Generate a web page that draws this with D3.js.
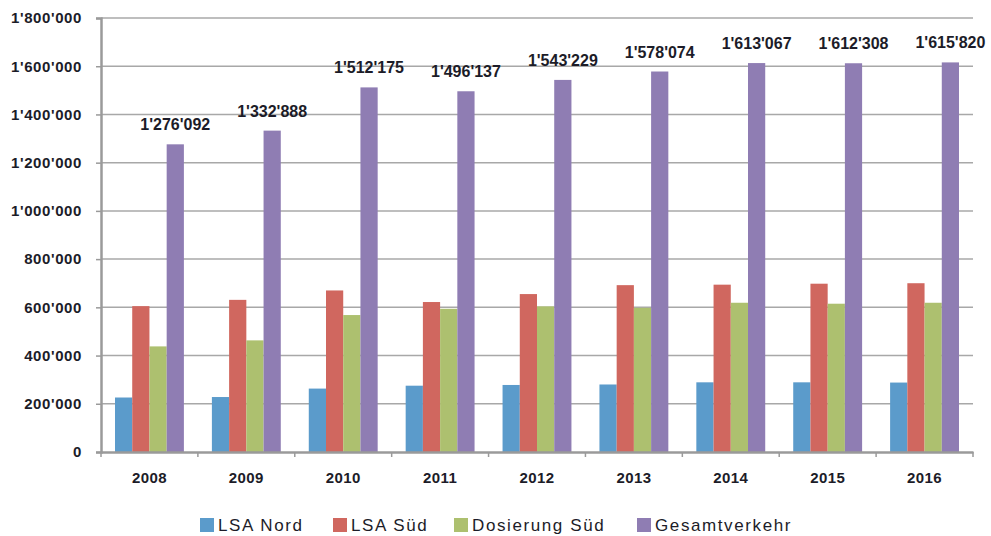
<!DOCTYPE html>
<html>
<head>
<meta charset="utf-8">
<script src="https://cdn.jsdelivr.net/npm/d3@7"></script>
<style>
  body { margin: 0; background: #fff; }
  text { font-family: "Liberation Sans", Arial, sans-serif; }
</style>
</head>
<body>
<div id="chart"></div>
<script>
// Data
const years = ["2008", "2009", "2010", "2011", "2012", "2013", "2014", "2015", "2016"];
const seriesNames = ["LSA Nord", "LSA Süd", "Dosierung Süd", "Gesamtverkehr"];
const lsaNord = [226000, 228000, 263000, 275000, 278000, 280000, 289000, 289000, 288000];
const lsaSued = [605000, 631000, 670000, 622000, 655000, 692000, 694000, 698000, 700000];
const dosierungSued = [438000, 463000, 568000, 594000, 604000, 598000, 619000, 615000, 619000];
const gesamtverkehr = [1276092, 1332888, 1512175, 1496137, 1543229, 1578074, 1613067, 1612308, 1615820];
const yTicks = [0, 200000, 400000, 600000, 800000, 1000000, 1200000, 1400000, 1600000, 1800000];
const colors = ["#5b9bcb", "#d0675f", "#adc06f", "#8f7db3"];

const totalW = 991, totalH = 536;
const margin = { top: 18, right: 18, bottom: 84, left: 101 };
const width = totalW - margin.left - margin.right;
const height = totalH - margin.top - margin.bottom;

const loc = d3.formatLocale({ decimal: ".", thousands: "'", grouping: [3], currency: ["", ""] });
const fmt = loc.format(",");

const allSeries = [lsaNord, lsaSued, dosierungSued, gesamtverkehr];
const rows = years.map(function(y, i) {
  return { year: y, values: allSeries.map(function(s, k) { return { key: seriesNames[k], value: s[i] }; }) };
});

const svg = d3.select("#chart").append("svg")
  .attr("width", totalW)
  .attr("height", totalH);

const g = svg.append("g")
  .attr("transform", "translate(" + margin.left + "," + margin.top + ")");

const x0 = d3.scaleBand().domain(years).range([0, width]).padding(0);
const x1 = d3.scaleBand().domain(seriesNames).range([14, x0.bandwidth() - 14]).padding(0);
const y = d3.scaleLinear().domain([0, 1800000]).range([height, 0]);

// gridlines
g.append("g")
  .selectAll("line")
  .data(yTicks.slice(1))
  .enter().append("line")
  .attr("x1", 0)
  .attr("x2", width)
  .attr("y1", function(d) { return y(d); })
  .attr("y2", function(d) { return y(d); })
  .attr("stroke", "#a8a8a8")
  .attr("stroke-width", 1.5);

// y axis
const yAxis = d3.axisLeft(y).tickValues(yTicks).tickFormat(fmt).tickSize(5).tickPadding(14);
const yg = g.append("g").call(yAxis);
yg.select(".domain").attr("stroke", "#9a9a9a").attr("stroke-width", 2.5);
yg.selectAll(".tick line").attr("stroke", "#9a9a9a").attr("stroke-width", 1.5);
yg.selectAll(".tick text")
  .attr("font-size", "15px")
  .attr("font-weight", "bold")
  .attr("letter-spacing", "0.6px")
  .attr("fill", "#1c1c28");

// bars
const groups = g.selectAll(".grp")
  .data(rows)
  .enter().append("g")
  .attr("class", "grp")
  .attr("transform", function(d) { return "translate(" + x0(d.year) + ",0)"; });

groups.selectAll("rect")
  .data(function(d) { return d.values; })
  .enter().append("rect")
  .attr("x", function(d) { return x1(d.key); })
  .attr("y", function(d) { return y(d.value); })
  .attr("width", x1.bandwidth())
  .attr("height", function(d) { return height - y(d.value); })
  .attr("fill", function(d, i) { return colors[i]; });

// value labels on totals
g.selectAll(".vlabel")
  .data(rows)
  .enter().append("text")
  .attr("class", "vlabel")
  .attr("x", function(d) { return x0(d.year) + x1("Gesamtverkehr") + x1.bandwidth() / 2; })
  .attr("y", function(d) { return y(d.values[3].value) - 14; })
  .attr("text-anchor", "middle")
  .attr("font-size", "16px")
  .attr("font-weight", "bold")
  .attr("fill", "#1c1c28")
  .text(function(d) { return fmt(d.values[3].value); });

// x axis
const xAxis = d3.axisBottom(x0).tickSize(0).tickPadding(20);
const xg = g.append("g")
  .attr("transform", "translate(0," + height + ")")
  .call(xAxis);
xg.select(".domain").attr("stroke", "#9a9a9a").attr("stroke-width", 2.5);
xg.selectAll(".tick text")
  .attr("font-size", "15px")
  .attr("font-weight", "bold")
  .attr("letter-spacing", "0.4px")
  .attr("fill", "#1c1c28");
// tick marks at group boundaries
xg.selectAll(".sep")
  .data(d3.range(years.length + 1))
  .enter().append("line")
  .attr("x1", function(i) { return i * x0.bandwidth(); })
  .attr("x2", function(i) { return i * x0.bandwidth(); })
  .attr("y1", 0)
  .attr("y2", 5)
  .attr("stroke", "#9a9a9a")
  .attr("stroke-width", 1.5);

// legend
const legendX = [200, 333, 454, 637];
const legend = svg.append("g");
seriesNames.forEach(function(name, i) {
  const item = legend.append("g").attr("transform", "translate(" + legendX[i] + ",525)");
  item.append("rect")
    .attr("x", 0)
    .attr("y", -7)
    .attr("width", 14)
    .attr("height", 14)
    .attr("fill", colors[i]);
  item.append("text")
    .attr("x", 18)
    .attr("y", 6)
    .attr("font-size", "17px")
    .attr("letter-spacing", "1.6px")
    .attr("fill", "#1c1c28")
    .text(name);
});
</script>
</body>
</html>
